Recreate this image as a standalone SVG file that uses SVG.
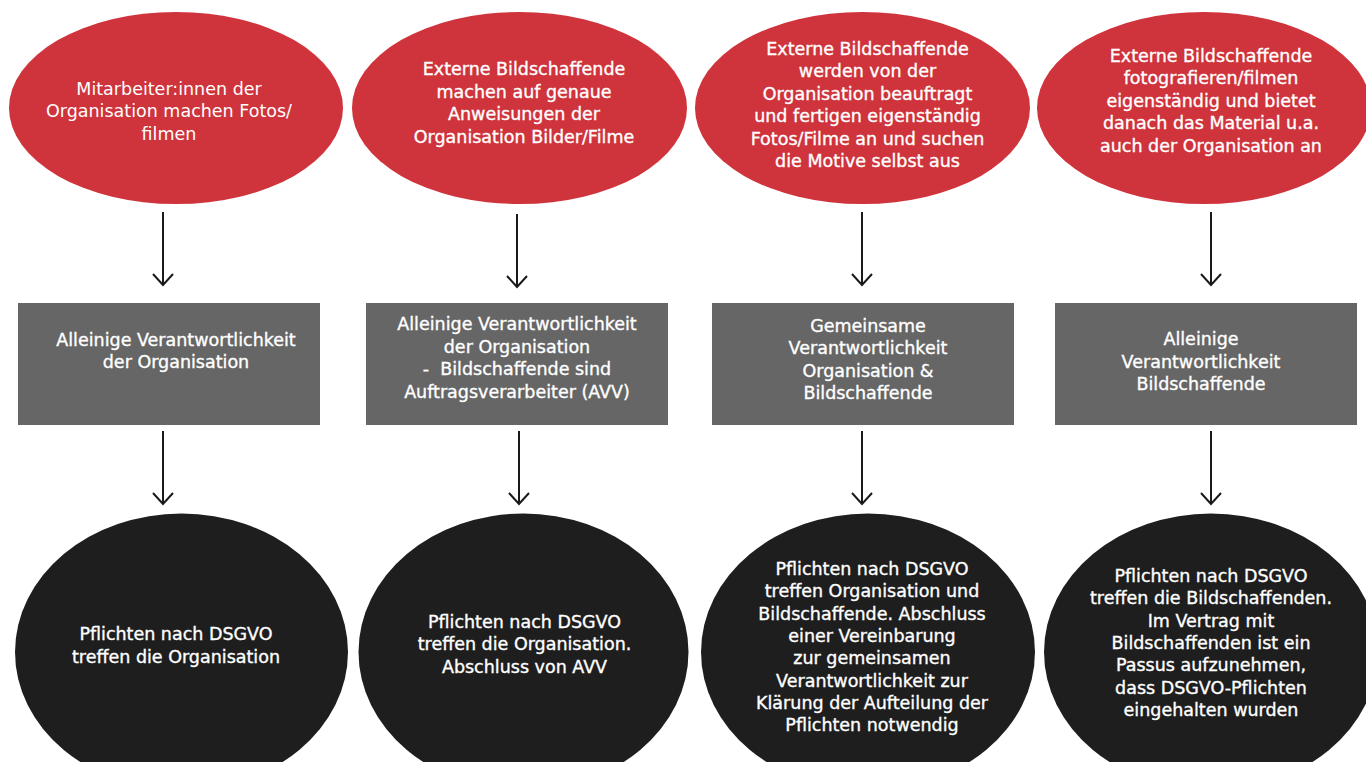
<svg xmlns="http://www.w3.org/2000/svg" width="1366" height="762" viewBox="0 0 1366 762">
<defs>
<style>
.red{fill:#cf333b}
.gray{fill:#666666}
.blk{fill:#1e1e1e}
text{font-family:"DejaVu Sans","Liberation Sans",sans-serif;font-size:17.5px;fill:#ffffff;text-anchor:middle}
.med{stroke:#ffffff;stroke-width:0.35}
.conn line{stroke:#1a1a1a;stroke-width:2}
.conn path{fill:none;stroke:#1a1a1a;stroke-width:2}
</style>
</defs>
<rect width="1366" height="762" fill="#ffffff"/>
<g id="top1"><ellipse class="red" cx="176" cy="108" rx="167" ry="96"/>
<text x="169" y="94.5">Mitarbeiter:innen der</text><text x="169" y="117">Organisation machen Fotos/</text><text x="169" y="139.5">filmen</text></g>
<g id="top2"><ellipse class="red" cx="519.5" cy="108" rx="167.5" ry="96"/>
<text class="med" x="524" y="75">Externe Bildschaffende</text><text class="med" x="524" y="97.5">machen auf genaue</text><text class="med" x="524" y="120">Anweisungen der</text><text class="med" x="524" y="142.5">Organisation Bilder/Filme</text></g>
<g id="top3"><ellipse class="red" cx="862.5" cy="108" rx="167.5" ry="96"/>
<text class="med" x="867.5" y="54.5">Externe Bildschaffende</text><text class="med" x="867.5" y="77">werden von der</text><text class="med" x="867.5" y="99.5">Organisation beauftragt</text><text class="med" x="867.5" y="122">und fertigen eigenständig</text><text class="med" x="867.5" y="144.5">Fotos/Filme an und suchen</text><text class="med" x="867.5" y="167">die Motive selbst aus</text></g>
<g id="top4"><ellipse class="red" cx="1204" cy="108" rx="167" ry="96"/>
<text class="med" x="1211" y="61.5">Externe Bildschaffende</text><text class="med" x="1211" y="84">fotografieren/filmen</text><text class="med" x="1211" y="106.5">eigenständig und bietet</text><text class="med" x="1211" y="129">danach das Material u.a.</text><text class="med" x="1211" y="151.5">auch der Organisation an</text></g>
<g id="box1"><rect class="gray" x="18" y="303" width="302" height="122"/>
<text class="med" x="176" y="345.5">Alleinige Verantwortlichkeit</text><text class="med" x="176" y="368">der Organisation</text></g>
<g id="box2"><rect class="gray" x="366" y="303" width="302" height="122"/>
<text class="med" x="517" y="330">Alleinige Verantwortlichkeit</text><text class="med" x="517" y="352.5">der Organisation</text><text class="med" x="517" y="375">-&#160; Bildschaffende sind</text><text class="med" x="517" y="397.5">Auftragsverarbeiter (AVV)</text></g>
<g id="box3"><rect class="gray" x="712" y="303" width="302" height="122"/>
<text class="med" x="868" y="331.5">Gemeinsame</text><text class="med" x="868" y="354">Verantwortlichkeit</text><text class="med" x="868" y="376.5">Organisation &amp;</text><text class="med" x="868" y="399">Bildschaffende</text></g>
<g id="box4"><rect class="gray" x="1055" y="303" width="302" height="122"/>
<text class="med" x="1201" y="345">Alleinige</text><text class="med" x="1201" y="367.5">Verantwortlichkeit</text><text class="med" x="1201" y="390">Bildschaffende</text></g>
<g id="bot1"><ellipse class="blk" cx="181.5" cy="652" rx="166.5" ry="138.5"/>
<text class="med" x="176" y="640">Pflichten nach DSGVO</text><text class="med" x="176" y="662.5">treffen die Organisation</text></g>
<g id="bot2"><ellipse class="blk" cx="523.5" cy="652" rx="165" ry="138.5"/>
<text class="med" x="524.5" y="627.5">Pflichten nach DSGVO</text><text class="med" x="524.5" y="650">treffen die Organisation.</text><text class="med" x="524.5" y="672.5">Abschluss von AVV</text></g>
<g id="bot3"><ellipse class="blk" cx="868" cy="652" rx="167" ry="138.5"/>
<text class="med" x="872" y="575">Pflichten nach DSGVO</text><text class="med" x="872" y="597.3">treffen Organisation und</text><text class="med" x="872" y="619.6">Bildschaffende. Abschluss</text><text class="med" x="872" y="641.9">einer Vereinbarung</text><text class="med" x="872" y="664.2">zur gemeinsamen</text><text class="med" x="872" y="686.5">Verantwortlichkeit zur</text><text class="med" x="872" y="708.8">Klärung der Aufteilung der</text><text class="med" x="872" y="731">Pflichten notwendig</text></g>
<g id="bot4"><ellipse class="blk" cx="1211" cy="652" rx="167" ry="138.5"/>
<text class="med" x="1211" y="582">Pflichten nach DSGVO</text><text class="med" x="1211" y="604.3">treffen die Bildschaffenden.</text><text class="med" x="1211" y="626.6">Im Vertrag mit</text><text class="med" x="1211" y="648.9">Bildschaffenden ist ein</text><text class="med" x="1211" y="671.2">Passus aufzunehmen,</text><text class="med" x="1211" y="693.5">dass DSGVO-Pflichten</text><text class="med" x="1211" y="715.8">eingehalten wurden</text></g>
<g id="connectors" class="conn">
<line x1="163" y1="212" x2="163" y2="284"/><path d="M153 274 L163 285 L173 274"/>
<line x1="517" y1="214" x2="517" y2="286"/><path d="M507 276 L517 287 L527 276"/>
<line x1="862" y1="212" x2="862" y2="284"/><path d="M852 274 L862 285 L872 274"/>
<line x1="1211" y1="212" x2="1211" y2="284"/><path d="M1201 274 L1211 285 L1221 274"/>
<line x1="163" y1="431" x2="163" y2="503"/><path d="M153 493 L163 504 L173 493"/>
<line x1="519" y1="431" x2="519" y2="503"/><path d="M509 493 L519 504 L529 493"/>
<line x1="862" y1="431" x2="862" y2="503"/><path d="M852 493 L862 504 L872 493"/>
<line x1="1211" y1="431" x2="1211" y2="503"/><path d="M1201 493 L1211 504 L1221 493"/>
</g>
</svg>
